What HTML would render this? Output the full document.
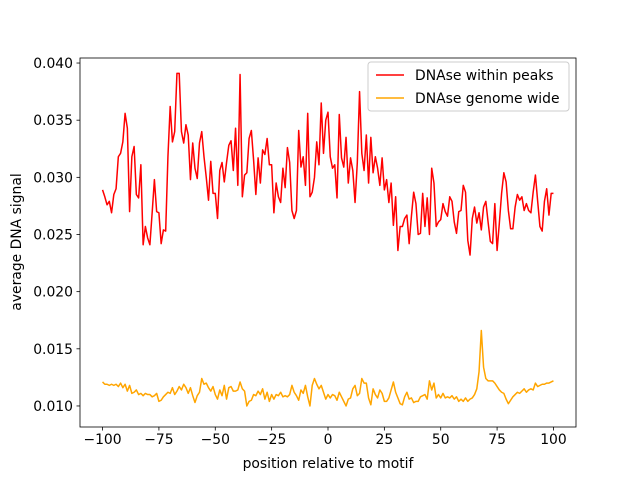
<!DOCTYPE html>
<html><head><meta charset="utf-8"><style>
body{margin:0;background:#fff}
svg{font-family:"DejaVu Sans","Liberation Sans",sans-serif}
</style></head><body>
<svg id="chart" width="640" height="480">
<rect width="640" height="480" fill="#fff"/>
<g id="plot"></g>
</svg>
<script>
const redValues=[.0289,.0283,.0276,.0279,.0269,.0285,.0290,.0318,.0321,.0331,.0356,.0343,.0270,.0318,.0327,.0285,.0282,.0311,.0241,.0257,.0247,.0241,.0269,.0298,.0270,.0269,.0242,.0254,.0253,.0318,.0362,.0331,.0340,.0391,.0391,.0340,.0330,.0346,.0337,.0298,.0330,.0308,.0299,.0330,
.0340,.0318,.0300,.0280,.0314,.0286,.0286,.0264,.0306,.0313,.0296,.0313,.0328,.0332,.0306,.0343,.0293,.0390,.0283,.0302,.0304,.0334,.0341,.0315,.0285,.0317,.0295,.0324,.0320,.0334,.0311,.0311,.0269,.0295,.0283,.0278,.0308,.0291,.0326,.0313,.0271,.0264,.0271,
.0341,.0309,.0318,.0293,.0356,.0283,.0287,.0300,.0331,.0311,.0365,.0321,.0350,.0357,.0318,.0308,.0311,.0282,.0355,.0317,.0309,.0335,.0295,.0317,.0306,.0278,.0313,.0375,.0321,.0306,.0337,.0295,.0335,.0304,.0318,.0308,.0293,.0317,.0289,.0298,.0278,.0295,.0258,.0283,
.0236,.0257,.0257,.0264,.0267,.0242,.0266,.0287,.0277,.0250,.0251,.0286,.0257,.0282,.0250,.0308,.0295,.0257,.0261,.0263,.0277,.0270,.0266,.0283,.0279,.0261,.0251,.0270,.0271,.0293,.0287,.0245,.0232,.0264,.0274,.0260,.0269,.0254,
.0274,.0279,.0261,.0244,.0242,.0277,.0236,.0260,.0286,.0304,.0296,.0271,.0255,.0255,.0274,.0285,.0280,.0283,.0271,.0277,.0271,.0269,.0287,.0302,.0279,.0257,.0253,.0279,.0290,.0267,.0286,.0286];
const orangeValues=[.0121,.0119,.0119,.0118,.0119,.0118,.0119,.0117,.0120,.0116,.0119,
.0113,.0118,.0111,.0112,.0114,.0110,.0111,.0109,.0111,.0110,
.0110,.0108,.0109,.0111,.0104,.0105,.0108,.0110,.0112,.0111,
.0116,.0110,.0113,.0117,.0114,.0119,.0116,.0111,.0116,.0109,
.0103,.0109,.0112,.0124,.0119,.0120,.0116,.0113,.0117,.0110,
.0106,.0114,.0109,.0118,.0106,.0116,.0117,.0113,.0113,.0114,
.0121,.0115,.0113,.0100,.0104,.0105,.0110,.0109,.0113,.0110,
.0115,.0106,.0112,.0104,.0110,.0106,.0110,.0109,.0112,.0108,
.0109,.0108,.0110,.0118,.0112,.0109,.0105,.0114,.0111,.0118,
.0108,.0100,.0118,.0124,.0119,.0115,.0118,.0112,.0106,.0110,
.0107,.0110,.0109,.0105,.0112,.0108,.0104,.0100,.0106,.0107,
.0115,.0118,.0109,.0111,.0124,.0120,.0120,.0107,.0101,.0115,
.0110,.0107,.0114,.0111,.0104,.0104,.0107,.0114,.0121,.0112,
.0107,.0102,.0101,.0108,.0112,.0106,.0107,.0103,.0104,.0104,
.0108,.0109,.0110,.0106,.0122,.0114,.0120,.0107,.0110,.0107,
.0111,.0107,.0108,.0107,.0109,.0106,.0108,.0104,.0106,.0104,
.0107,.0104,.0106,.0107,.0110,.0115,.0130,.0166,.0134,.0124,
.0122,.0122,.0122,.0120,.0117,.0114,.0112,.0111,.0106,.0102,
.0105,.0108,.0110,.0112,.0111,.0113,.0115,.0112,.0114,.0115,
.0114,.0120,.0117,.0118,.0119,.0119,.0120,.0120,.0121,.0122];
const xTicks=[-100,-75,-50,-25,0,25,50,75,100];
const yTicks=[0.010,0.015,0.020,0.025,0.030,0.035,0.040];
const xStart=-100;

const L=80,R=576,T=58,B=427;
const xmin=-110,xmax=110,ymin=0.00816,ymax=0.04044;
const sx=v=>L+(v-xmin)/(xmax-xmin)*(R-L);
const sy=v=>B-(v-ymin)/(ymax-ymin)*(B-T);
const NS='http://www.w3.org/2000/svg';
const g=document.getElementById('plot');
function mk(t,a,p){const e=document.createElementNS(NS,t);for(const k in a)e.setAttribute(k,a[k]);(p||g).appendChild(e);return e;}

function series(vals,color,name){
  const pts=vals.map((v,i)=>sx(xStart+i).toFixed(2)+','+sy(v).toFixed(2)).join(' ');
  const e=mk('polyline',{points:pts,fill:'none',stroke:color,'stroke-width':1.5,'stroke-linejoin':'round'});
  
  
}
series(redValues,'#ff0000','series-within-peaks');
series(orangeValues,'#ffa500','series-genome-wide');

const frame=mk('rect',{x:L,y:T,width:R-L,height:B-T,fill:'none',stroke:'#000','stroke-width':0.8});



xTicks.forEach(t=>{
  const x=sx(t);
  mk('line',{x1:x,x2:x,y1:B,y2:B+3.5,stroke:'#000','stroke-width':0.8});
  const tx=mk('text',{x:x,y:B+17,'font-size':'13.9','text-anchor':'middle',fill:'#000'});
  tx.textContent=t===0?'0':(t<0?'\u2212'+(-t):String(t));
  
  
});
yTicks.forEach(t=>{
  const y=sy(t);
  mk('line',{x1:L-3.5,x2:L,y1:y,y2:y,stroke:'#000','stroke-width':0.8});
  const tx=mk('text',{x:L-7,y:y+5,'font-size':'13.9','text-anchor':'end',fill:'#000'});
  tx.textContent=t.toFixed(3);
  
  
});
const xt=mk('text',{x:(L+R)/2,y:468,'font-size':'13.9','text-anchor':'middle'});
xt.textContent='position relative to motif';


const yt=mk('text',{x:0,y:0,'font-size':'13.9','text-anchor':'middle',transform:'translate(21,242) rotate(-90)'});
yt.textContent='average DNA signal';



const lg=mk('g',{});


mk('rect',{x:368,y:62,width:201,height:49,rx:3,fill:'#fff','fill-opacity':0.8,stroke:'#ccc','stroke-width':1},lg);
[['DNAse within peaks','#ff0000',75],['DNAse genome wide','#ffa500',98]].forEach(([n,c,y])=>{
  const ln=mk('line',{x1:376,x2:404,y1:y,y2:y,stroke:c,'stroke-width':1.5},lg);
  
  
  const t=mk('text',{x:415,y:y+5,'font-size':'13.9'},lg);
  t.textContent=n;
  
  
});
</script>
</body></html>
